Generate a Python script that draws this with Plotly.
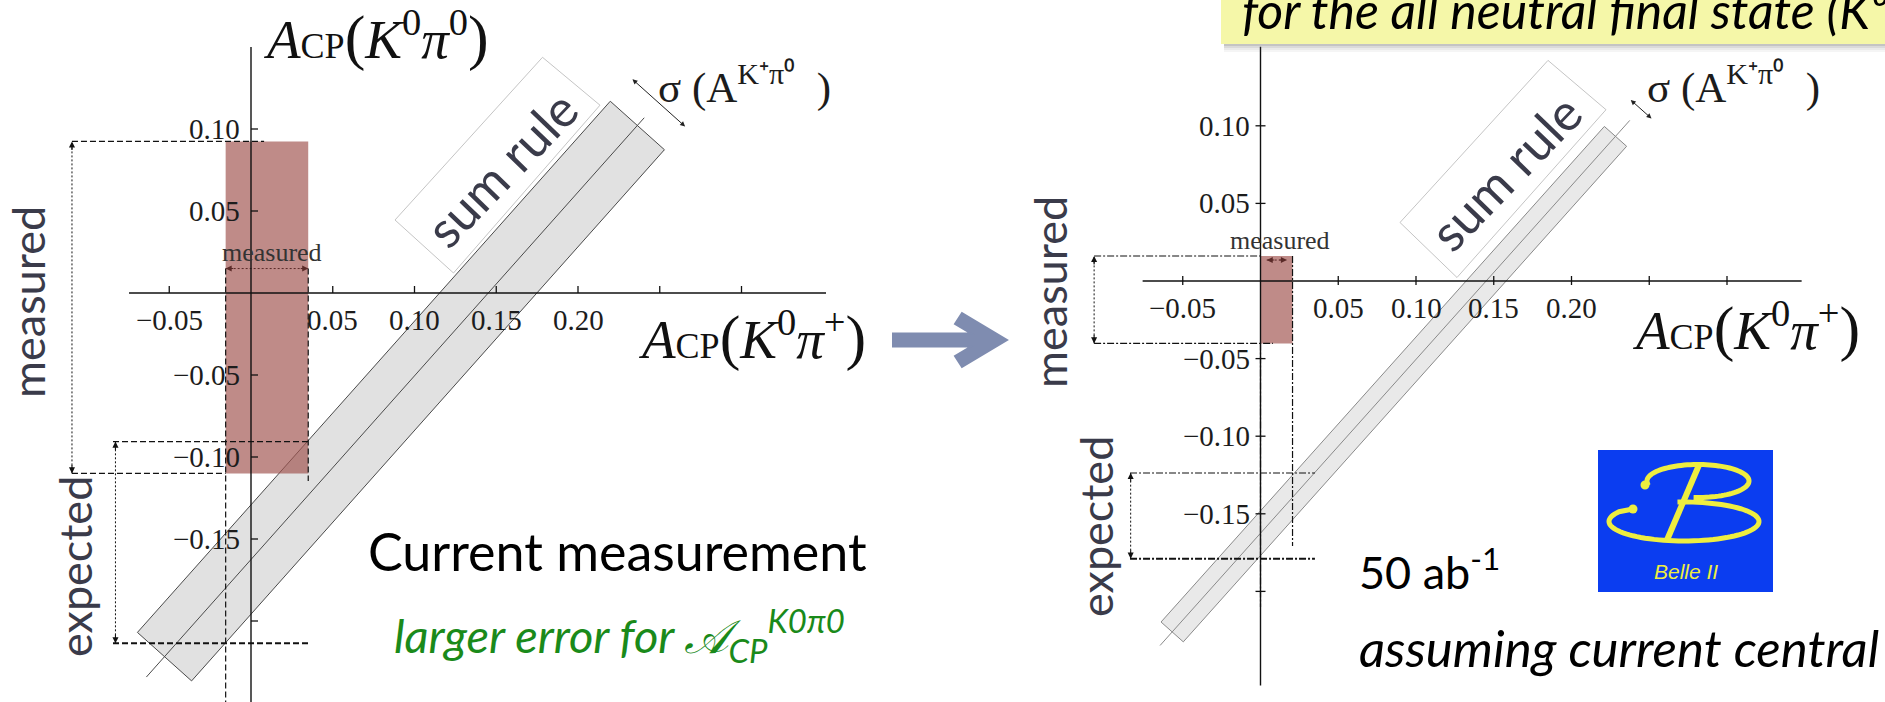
import numpy as np
import plotly.graph_objects as go

W, H = 1885, 702


def px(x):
    return x / W


def py(y):
    return 1.0 - y / H


# ---------------- data ----------------
# sum rule: A_CP(K0 pi0) = SUM_SLOPE * A_CP(K0 pi+) + SUM_OFFSET
SUM_SLOPE = 1.12
SUM_OFFSET = -0.1625

# current measurement (left)
cur_sigma = 0.0222            # half width of the sum-rule band
cur_band_x = [-0.0529, 0.2363]
cur_line_x = [-0.064, 0.2405]
cur_meas_x = [-0.0155, 0.035]   # A_CP(K0 pi+) interval
cur_meas_y = [-0.110, 0.0924]   # A_CP(K0 pi0) interval
cur_exp_y = [-0.2136, -0.0906]  # expected A_CP(K0 pi0)

# 50 ab^-1 projection (right)
fut_sigma = 0.0096
fut_band_x = [-0.0568, 0.2283]
fut_line_x = [-0.0646, 0.2375]
fut_meas_x = [0.0, 0.0206]
fut_meas_y = [-0.0402, 0.0161]
fut_exp_y = [-0.1789, -0.1237]

x_ticks = [-0.05, 0.05, 0.10, 0.15, 0.20, 0.25, 0.30]
x_tick_labels = ["\u22120.05", "0.05", "0.10", "0.15", "0.20", "", ""]
y_ticks = [0.10, 0.05, -0.05, -0.10, -0.15, -0.20]
y_tick_labels = ["0.10", "0.05", "\u22120.05", "\u22120.10", "\u22120.15", ""]

SERIF = "Liberation Serif, Times New Roman, serif"
SANS = "Lato, Open Sans, sans-serif"
SLATE = "#3a3b4a"
TICK_FONT = 29

fig = go.Figure()
shapes = []
anns = []

NORM = np.hypot(1.0, SUM_SLOPE)
NX, NY = -SUM_SLOPE / NORM, 1.0 / NORM   # unit normal (up-left)


def on_line(x):
    return SUM_SLOPE * x + SUM_OFFSET


def band(xr, sigma):
    xc = np.array(xr, dtype=float)
    yc = on_line(xc)
    bx = [xc[0] + sigma * NX, xc[1] + sigma * NX, xc[1] - sigma * NX, xc[0] - sigma * NX, xc[0] + sigma * NX]
    by = [yc[0] + sigma * NY, yc[1] + sigma * NY, yc[1] - sigma * NY, yc[0] - sigma * NY, yc[0] + sigma * NY]
    return bx, by


def label(x, y, text, size, color="#000", family=SANS, xanchor="center", yanchor="middle", angle=0):
    anns.append(dict(xref="paper", yref="paper", x=px(x), y=py(y), text=text, showarrow=False,
                     xanchor=xanchor, yanchor=yanchor, textangle=angle,
                     font=dict(family=family, size=size, color=color)))


def hline(xr, yr, x0, x1, y, width=1.2, dash="5px,3px", color="#111"):
    shapes.append(dict(type="line", xref=xr, yref=yr, x0=x0, x1=x1, y0=y, y1=y,
                       line=dict(color=color, width=width, dash=dash)))


def vline(xr, yr, x, y0, y1, width=1.2, dash="5px,3px", color="#111"):
    shapes.append(dict(type="line", xref=xr, yref=yr, x0=x, x1=x, y0=y0, y1=y1,
                       line=dict(color=color, width=width, dash=dash)))


def head(xr, yr, x, y, ax, ay, color="#111"):
    anns.append(dict(xref=xr, yref=yr, x=x, y=y, ax=ax, ay=ay, text="", showarrow=True,
                     arrowhead=2, arrowsize=1.1, arrowwidth=1.1, arrowcolor=color, standoff=0))


def draw_panel(xa, ya, band_x, line_x, sigma, meas_x, meas_y, exp_y, g):
    bx, by = band(band_x, sigma)
    fig.add_trace(go.Scatter(x=bx, y=by, mode="lines", fill="toself", fillcolor=g["band_fill"],
                             line=dict(color=g["band_edge"], width=1), hoverinfo="skip",
                             xaxis=xa, yaxis=ya))
    lx = np.array(line_x)
    fig.add_trace(go.Scatter(x=lx, y=on_line(lx), mode="lines", line=dict(color=g["band_edge"], width=1),
                             hoverinfo="skip", xaxis=xa, yaxis=ya))
    # measured region
    shapes.append(dict(type="rect", xref=xa, yref=ya, x0=meas_x[0], x1=meas_x[1], y0=meas_y[0], y1=meas_y[1],
                       fillcolor="rgb(160,84,80)", opacity=0.68, line=dict(width=0)))
    d = g["dash"]
    # measured guides
    hline(xa, ya, g["meas_gx"], g["meas_top_end"], meas_y[1], dash=d)
    hline(xa, ya, g["meas_gx"], g["meas_bot_end"], meas_y[0], dash=d)
    vline(xa, ya, g["meas_gx"], meas_y[0], meas_y[1], width=1, dash="2px,2px")
    head(xa, ya, g["meas_gx"], meas_y[1], 0, 10)
    head(xa, ya, g["meas_gx"], meas_y[0], 0, -10)
    # expected guides
    hline(xa, ya, g["exp_gx0"], g["exp_gx1"], exp_y[1], dash=d)
    hline(xa, ya, g["exp_gx0"], g["exp_gx1"], exp_y[0], width=2, dash=d)
    vline(xa, ya, g["exp_ax"], exp_y[0], exp_y[1], width=1, dash="2px,2px")
    head(xa, ya, g["exp_ax"], exp_y[1], 0, 10)
    head(xa, ya, g["exp_ax"], exp_y[0], 0, -10)
    # vertical projections of the measured A_CP(K0 pi+) interval
    vline(xa, ya, meas_x[0], g["v0"][0], g["v0"][1], dash=d)
    vline(xa, ya, meas_x[1], g["v1"][0], g["v1"][1], dash=d)
    # small "measured" arrow
    sy = g["small_y"]
    hline(xa, ya, g["small_x"][0], g["small_x"][1], sy, width=1, dash="2px,2px", color="#5a2a28")
    head(xa, ya, g["small_x"][0], sy, 9, 0, color="#5a2a28")
    head(xa, ya, g["small_x"][1], sy, -9, 0, color="#5a2a28")
    anns.append(dict(xref=xa, yref=ya, x=g["small_lbl"][0], y=g["small_lbl"][1], text="measured",
                     showarrow=False, xanchor="center", yanchor="middle",
                     font=dict(family=SERIF, size=26, color="#333")))
    # axes through the origin
    shapes.append(dict(type="line", xref=xa, yref=ya, x0=g["ax_x"][0], x1=g["ax_x"][1], y0=0, y1=0,
                       line=dict(color="#111", width=1.6)))
    shapes.append(dict(type="line", xref=xa, yref=ya, x0=0, x1=0, y0=g["ax_y"][0], y1=g["ax_y"][1],
                       line=dict(color="#111", width=1.4)))
    for v, lab in zip(x_ticks, x_tick_labels):
        shapes.append(dict(type="line", xref=xa, yref=ya, ysizemode="pixel", yanchor=0,
                           x0=v, x1=v, y0=g["xt"][0], y1=g["xt"][1], line=dict(color="#111", width=1.3)))
        if lab:
            anns.append(dict(xref=xa, yref=ya, x=v, y=0, yshift=-27, text=lab, showarrow=False,
                             xanchor="center", yanchor="middle",
                             font=dict(family=SERIF, size=TICK_FONT, color="#1c1c1c")))
    for v, lab in zip(y_ticks, y_tick_labels):
        shapes.append(dict(type="line", xref=xa, yref=ya, xsizemode="pixel", xanchor=0,
                           x0=g["yt"][0], x1=g["yt"][1], y0=v, y1=v, line=dict(color="#111", width=1.3)))
        if lab:
            anns.append(dict(xref=xa, yref=ya, x=0, y=v, xanchor="right", yanchor="middle", xshift=-9,
                             text=lab, showarrow=False,
                             font=dict(family=SERIF, size=TICK_FONT, color="#1c1c1c")))
    # sigma arrow beyond the top end of the band
    cx = band_x[1] + g["sig_shift"] / NORM
    cy = on_line(cx)
    anns.append(dict(xref=xa, yref=ya, axref=xa, ayref=ya,
                     x=cx - sigma * NX, y=cy - sigma * NY, ax=cx + sigma * NX, ay=cy + sigma * NY,
                     text="", showarrow=True, arrowhead=2, arrowside="end+start", arrowsize=1,
                     arrowwidth=1, arrowcolor="#222", standoff=0, startstandoff=0))


draw_panel("x", "y", cur_band_x, cur_line_x, cur_sigma, cur_meas_x, cur_meas_y, cur_exp_y, dict(
    band_fill="#e1e1e1", band_edge="#4a4a4a", dash="6px,3px",
    meas_gx=-0.1095, meas_top_end=0.008, meas_bot_end=cur_meas_x[0],
    exp_gx0=-0.0844, exp_gx1=0.036, exp_ax=-0.0829,
    v0=(0.015, -0.2494), v1=(0.015, -0.1146),
    small_y=0.0149, small_x=cur_meas_x, small_lbl=(0.0131, 0.025),
    ax_x=(-0.0746, 0.3517), ax_y=(-0.2494, 0.150), xt=(0, 7), yt=(0, 7), sig_shift=0.019))

draw_panel("x2", "y2", fut_band_x, fut_line_x, fut_sigma, fut_meas_x, fut_meas_y, fut_exp_y, dict(
    band_fill="#e9e9e9", band_edge="#8a8a8a", dash="7px,2px,2px,2px",
    meas_gx=-0.107, meas_top_end=0.0, meas_bot_end=0.008,
    exp_gx0=-0.0839, exp_gx1=0.035, exp_ax=-0.0835,
    v0=(fut_meas_y[0], -0.21), v1=(fut_meas_y[1], -0.1707),
    small_y=0.0135, small_x=[0.004, 0.017], small_lbl=(0.0125, 0.0258),
    ax_x=(-0.0758, 0.348), ax_y=(-0.2606, 0.151), xt=(-4, 5), yt=(-5, 5), sig_shift=0.024))

# ---------------- "sum rule" frames ----------------
for corners, centre in [([(395, 220), (542.5, 57.3), (600, 105.2), (453.5, 273)], (501, 168)),
                        ([(1400, 222.5), (1548, 60.4), (1606, 109.7), (1457, 277.5)], (1505, 173))]:
    path = "M " + " L ".join(f"{px(a):.5f},{py(b):.5f}" for a, b in corners) + " Z"
    shapes.append(dict(type="path", xref="paper", yref="paper", path=path,
                       line=dict(color="#b5b5b5", width=0.8), fillcolor="rgba(255,255,255,0)"))
    label(centre[0], centre[1], "sum rule", 51, SLATE, angle=-46)

# ---------------- axis titles ----------------
def acp(last):
    return ('<i>A</i><span style="font-size:36px">CP</span><span style="font-size:62px">(</span>'
            '<i>K</i><sup>0</sup><i>\u03c0</i><sup>' + last + '</sup><span style="font-size:62px">)</span>')


label(376, 37, acp("0"), 55, "#111", SERIF)
label(752, 336, acp("+"), 55, "#111", SERIF)
label(1746, 327, acp("+"), 55, "#111", SERIF)

sig_txt = "\u03c3 (A<sup>K\u207a\u03c0\u2070</sup>\u00a0\u00a0)"
for x0 in (656, 1645):
    label(x0, 84, sig_txt, 43, "#1c1c1c", SERIF, xanchor="left")

# ---------------- side labels ----------------
for x0, y0, s in [(28, 302, "measured"), (75, 567, "expected"), (1050, 292, "measured"), (1096, 527, "expected")]:
    label(x0, y0, s, 45, SLATE, angle=-90)

# ---------------- captions ----------------
label(617, 551, "Current measurement", 52, "#000")
label(847, 635, "<i>larger error for \U0001D49C<sub>CP</sub><sup>K0\u03c00</sup></i>", 47, "#1a8a1a",
      xanchor="right")
label(1357, 569, "50 ab<sup>-1</sup>", 45, "#000", xanchor="left")
label(1357, 647, "<i>assuming current central</i>", 51, "#000", xanchor="left")

# ---------------- arrow between the panels ----------------
arrow_pts = [(893, 333.5), (971, 333.5), (955, 324), (962, 313), (1007, 340), (962, 367),
             (955, 356), (971, 346.5), (893, 346.5)]
shapes.append(dict(type="path", xref="paper", yref="paper",
                   path="M " + " L ".join(f"{px(a):.5f},{py(b):.5f}" for a, b in arrow_pts) + " Z",
                   fillcolor="#7f8cb0", line=dict(color="#7f8cb0", width=2)))

# ---------------- Belle II logo ----------------
shapes.append(dict(type="rect", xref="paper", yref="paper", x0=px(1598), x1=px(1773), y0=py(592), y1=py(450),
                   fillcolor="#0b3df0", line=dict(width=0)))


def arc(cx, cy, rx, ry, a0, a1, lead=None, n=80):
    t = np.radians(np.linspace(a0, a1, n))
    pts = list(zip(cx + rx * np.cos(t), cy - ry * np.sin(t)))
    if lead is not None:
        pts = [lead] + pts
    return "M " + " L ".join(f"{px(a):.5f},{py(b):.5f}" for a, b in pts)


YEL = "#eeee40"
shapes.append(dict(type="path", xref="paper", yref="paper", path=arc(1684, 521.5, 75, 19.5, 150, 455, lead=(1633, 509)),
                   line=dict(color=YEL, width=5)))
shapes.append(dict(type="path", xref="paper", yref="paper", path=arc(1698, 481, 51, 16.5, 188, -95, lead=(1645, 485)),
                   line=dict(color=YEL, width=5)))
shapes.append(dict(type="line", xref="paper", yref="paper", x0=px(1699), y0=py(465), x1=px(1667), y1=py(540),
                   line=dict(color=YEL, width=6)))
for cxx, cyy in [(1645, 485), (1633, 509)]:
    shapes.append(dict(type="circle", xref="paper", yref="paper", x0=px(cxx - 4.5), x1=px(cxx + 4.5),
                       y0=py(cyy + 4.5), y1=py(cyy - 4.5), fillcolor=YEL, line=dict(width=0)))
label(1686, 571, "<i>Belle II</i>", 21, YEL, "Liberation Sans, Arial, sans-serif")

# ---------------- header box ----------------
for k, op in enumerate([0.35, 0.22, 0.12, 0.06]):
    shapes.append(dict(type="rect", xref="paper", yref="paper", x0=px(1224), x1=px(1890),
                       y0=py(44 + 2 * (k + 1)), y1=py(44 + 2 * k), fillcolor="#555", opacity=op, line=dict(width=0)))
shapes.append(dict(type="rect", xref="paper", yref="paper", x0=px(1221), x1=px(1890), y0=py(44), y1=py(-5),
                   fillcolor="#f5f7a8", line=dict(width=0)))
label(1240, 10, "<i>for the all neutral final state (K\u2070\u03c0\u2070)</i>", 50, "#000", xanchor="left")

fig.update_layout(
    width=W, height=H, margin=dict(l=0, r=0, t=0, b=0),
    paper_bgcolor="white", plot_bgcolor="white", showlegend=False,
    xaxis=dict(domain=[0, 1], range=[-251 / 1635, (W - 251) / 1635], visible=False, fixedrange=True),
    yaxis=dict(domain=[0, 1], range=[(293 - H) / 1640, 293 / 1640], visible=False, fixedrange=True),
    xaxis2=dict(domain=[0, 1], range=[-1260.5 / 1555, (W - 1260.5) / 1555], visible=False,
                overlaying="x", anchor="y2", fixedrange=True),
    yaxis2=dict(domain=[0, 1], range=[(281 - H) / 1552, 281 / 1552], visible=False,
                overlaying="y", anchor="x2", fixedrange=True),
    shapes=shapes, annotations=anns,
)

fig.write_html("out.html")
